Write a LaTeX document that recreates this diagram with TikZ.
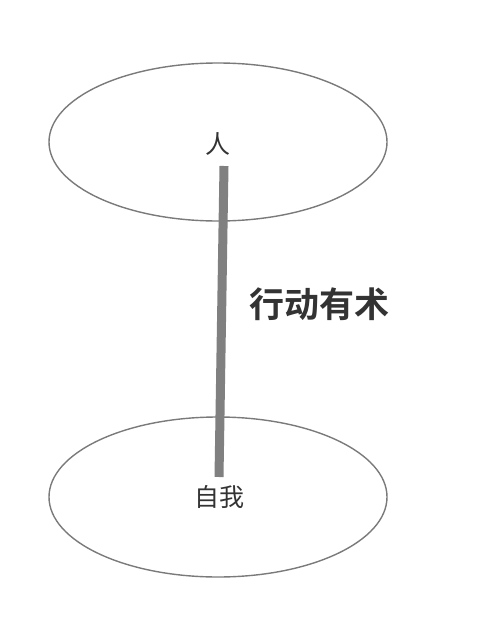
\documentclass[tikz,border=0pt]{standalone}
\usepackage{fontspec}
\usepackage{xcolor}
\newfontfamily\cjk{Noto Sans CJK SC}
\newfontfamily\cjkbold{Noto Sans CJK SC Bold}
\definecolor{ringgray}{HTML}{7A7A7A}
\definecolor{bargray}{HTML}{808080}
\definecolor{textgray}{HTML}{333333}

\begin{document}
\begin{tikzpicture}[x=1pt, y=-1pt,
        ring/.style={draw=ringgray, line width=1.4pt},
        label/.style={text=textgray, font=\cjk\fontsize{25}{28}\selectfont, inner sep=0pt},
        title/.style={text=textgray, font=\cjkbold\fontsize{35}{40}\selectfont, inner sep=0pt}]

        \useasboundingbox (0,0) rectangle (480,642);

        % Upper ring
        \draw[ring] (218,142) ellipse [x radius=169, y radius=79];
        \node[label] (person) at (217.5,144) {人};

        % Lower ring
        \draw[ring] (218,497) ellipse [x radius=169, y radius=80];
        \node[label] (self) at (219,497) {自我};

        % Bar between the rings
        \coordinate (bartop) at (224,166);
        \coordinate (barbottom) at (219,477);
        \draw[bargray, line width=9pt] (bartop) -- (barbottom);

        % Caption
        \node[title] (caption) at (319,304) {行动有术};
    \end{tikzpicture}
\end{document}
